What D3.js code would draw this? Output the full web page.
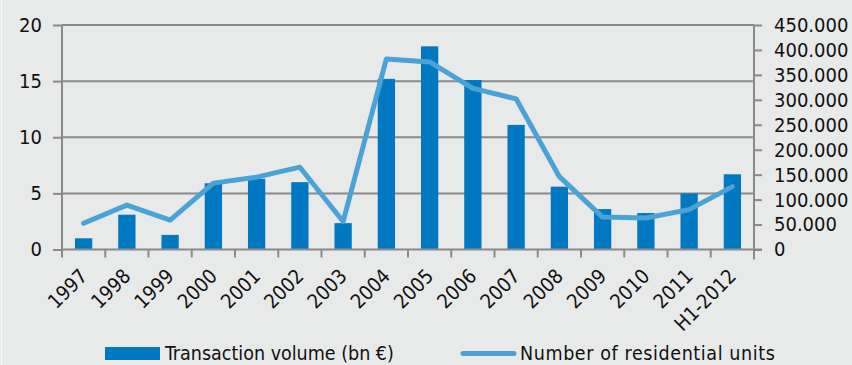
<!DOCTYPE html>
<html>
<head>
<meta charset="utf-8">
<script src="https://cdn.jsdelivr.net/npm/d3@7"></script>
<style>
  html, body { margin: 0; padding: 0; background: #e8e9e9; }
  svg { display: block; }
  text { font-family: "DejaVu Sans Condensed", "DejaVu Sans", sans-serif; fill: #111; }
</style>
</head>
<body>
<svg id="chart" width="852" height="365"></svg>
<script>
// Residential transactions by year
const years = ["1997","1998","1999","2000","2001","2002","2003","2004","2005","2006","2007","2008","2009","2010","2011","H1-2012"];
const volume = [1.0, 3.1, 1.3, 5.9, 6.3, 6.0, 2.35, 15.2, 18.1, 15.1, 11.1, 5.6, 3.6, 3.25, 5.0, 6.7];
const units = [52500, 89000, 59000, 133000, 145000, 165000, 56000, 382000, 376000, 323000, 302000, 146000, 65000, 63000, 80000, 126000];
const leftTicks = [0, 5, 10, 15, 20];
const rightTicks = [0, 50000, 100000, 150000, 200000, 250000, 300000, 350000, 400000, 450000];
const seriesNames = ["Transaction volume (bn €)", "Number of residential units"];

const barColor = "#0079c2";
const lineColor = "#4aa3d7";
const axisColor = "#8a8a8a";

const svg = d3.select("#chart");
const W = 852, H = 365;
const m = { left: 62, right: 98, top: 25, bottom: 115.5 };
const x0 = m.left, x1 = W - m.right, yTop = m.top, yBase = H - m.bottom;

svg.append("rect").attr("width", W).attr("height", H).attr("fill", "#e8e9e9");
svg.append("line").attr("x1", 1.5).attr("x2", 1.5).attr("y1", 0).attr("y2", H)
  .attr("stroke", "#f6f6f6").attr("stroke-width", 1);

const x = d3.scaleBand().domain(years).range([x0, x1]).paddingInner(0).paddingOuter(0);
const yL = d3.scaleLinear().domain([0, 20]).range([yBase, yTop]);
const yR = d3.scaleLinear().domain([0, 450000]).range([yBase, yTop]);

// gridlines
svg.append("g").selectAll("line").data(leftTicks.filter(d => d > 0)).join("line")
  .attr("x1", x0).attr("x2", x1)
  .attr("y1", d => yL(d)).attr("y2", d => yL(d))
  .attr("stroke", axisColor).attr("stroke-width", 2);

// bars
const bw = x.bandwidth() * 0.4;
svg.append("g").selectAll("rect").data(years).join("rect")
  .attr("x", d => x(d) + (x.bandwidth() - bw) / 2)
  .attr("width", bw)
  .attr("y", (d, i) => yL(volume[i]))
  .attr("height", (d, i) => yBase - yL(volume[i]))
  .attr("fill", barColor);

// line
const line = d3.line()
  .x((d, i) => x(years[i]) + x.bandwidth() / 2)
  .y(d => yR(d));
svg.append("path").datum(units)
  .attr("d", line)
  .attr("fill", "none")
  .attr("stroke", lineColor)
  .attr("stroke-width", 5)
  .attr("stroke-linejoin", "round")
  .attr("stroke-linecap", "round");

// left axis
const gL = svg.append("g").attr("transform", `translate(${x0},0)`)
  .call(d3.axisLeft(yL).tickValues(leftTicks).tickSize(9).tickPadding(11).tickFormat(d3.format("d")));
// right axis
const fmtR = d => d === 0 ? "0" : d3.format(",")(d).replace(/,/g, ".");
const gR = svg.append("g").attr("transform", `translate(${x1},0)`)
  .call(d3.axisRight(yR).tickValues(rightTicks).tickSize(8).tickPadding(12).tickFormat(fmtR));
// bottom axis
const gB = svg.append("g").attr("transform", `translate(0,${yBase})`)
  .call(d3.axisBottom(x).tickSize(0).tickFormat(d => d));

[gL, gR, gB].forEach(g => {
  g.select(".domain").attr("stroke", axisColor).attr("stroke-width", 2);
  g.selectAll(".tick line").attr("stroke", axisColor).attr("stroke-width", 2);
  g.selectAll("text").style("font-size", "20px").attr("fill", "#111");
});
gL.select(".domain").attr("d", `M0,${yTop}V${yBase}`);
gR.select(".domain").attr("d", `M0,${yTop}V${yBase + 10}`);
gB.select(".domain").attr("d", `M${x0},0H${x1 + 8}`);

// category boundary ticks on the x axis
const bounds = years.map(d => x(d)).concat([x1]);
gB.append("g").selectAll("line").data(bounds).join("line")
  .attr("x1", d => d).attr("x2", d => d).attr("y1", 0).attr("y2", 8)
  .attr("stroke", axisColor).attr("stroke-width", 2);

gB.selectAll(".tick text")
  .attr("text-anchor", "end")
  .attr("dy", null)
  .attr("y", null)
  .attr("transform", "translate(5,28) rotate(-45)");

// legend
const lg = svg.append("g");
lg.append("rect").attr("x", 105).attr("y", 347).attr("width", 55).attr("height", 13).attr("fill", barColor);
lg.append("text").attr("x", 165).attr("y", 359.5).style("font-size", "19.5px").text(seriesNames[0]);
lg.append("line").attr("x1", 463).attr("x2", 514).attr("y1", 353.5).attr("y2", 353.5)
  .attr("stroke", lineColor).attr("stroke-width", 5).attr("stroke-linecap", "round");
lg.append("text").attr("x", 520).attr("y", 359.5).style("font-size", "19.5px")
  .style("letter-spacing", "0.6px").text(seriesNames[1]);
</script>
</body>
</html>
